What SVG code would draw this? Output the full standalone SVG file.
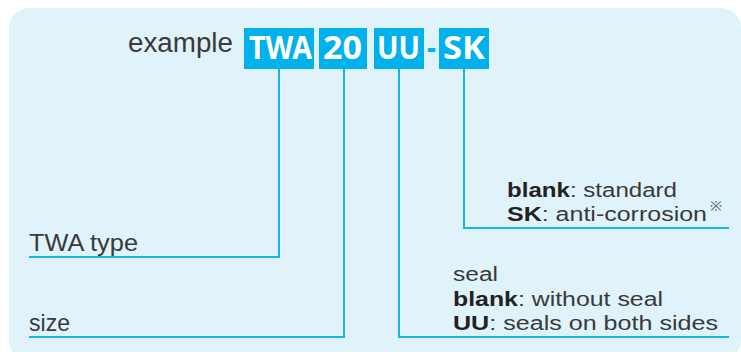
<svg xmlns="http://www.w3.org/2000/svg" width="741" height="352" viewBox="0 0 741 352">
<style>
.bg{fill:#e0f2fa}
.box{fill:#00b1ec}
.code{font-family:"Noto Sans","Liberation Sans",sans-serif;font-weight:700;font-size:32px;fill:#ffffff}
.lbl{font-family:"Liberation Sans","Noto Sans",sans-serif;font-size:24px;fill:#3a3a3a}
.txt{font-family:"Liberation Sans","Noto Sans",sans-serif;font-size:20px;fill:#3a3a3a}
.b{font-weight:700;fill:#222222}
.conn{fill:none;stroke:#1ab4ec;stroke-width:2}
</style>
<rect class="bg" x="9" y="8" width="732" height="352" rx="20" ry="20"/>
<g id="title">
<text class="lbl" x="128" y="52" textLength="105" lengthAdjust="spacingAndGlyphs" style="font-size:27px">example</text>
</g>
<g id="code-twa">
<rect class="box" x="244" y="28" width="70" height="41"/>
<text class="code" x="249" y="59" textLength="63" lengthAdjust="spacingAndGlyphs">TWA</text>
</g>
<g id="code-20">
<rect class="box" x="319" y="28" width="48" height="41"/>
<text class="code" x="323" y="59" textLength="39" lengthAdjust="spacingAndGlyphs">20</text>
</g>
<g id="code-uu">
<rect class="box" x="374" y="28" width="50" height="41"/>
<text class="code" x="377" y="59" textLength="43" lengthAdjust="spacingAndGlyphs">UU</text>
</g>
<g id="dash">
<text class="code" x="427" y="59" textLength="9" lengthAdjust="spacingAndGlyphs" style="fill:#00b1ec">-</text>
</g>
<g id="code-sk">
<rect class="box" x="439" y="28" width="50" height="41"/>
<text class="code" x="443" y="59" textLength="42" lengthAdjust="spacingAndGlyphs">SK</text>
</g>
<g id="connectors">
<polyline class="conn" points="279,69 279,257 29,257"/>
<polyline class="conn" points="344,69 344,337 29,337"/>
<polyline class="conn" points="399,69 399,337 729,337"/>
<polyline class="conn" points="464,69 464,228 729,228"/>
</g>
<g id="label-type">
<text class="lbl" x="29" y="250.5" textLength="109" lengthAdjust="spacingAndGlyphs">TWA type</text>
</g>
<g id="label-size">
<text class="lbl" x="29" y="331" textLength="41" lengthAdjust="spacingAndGlyphs">size</text>
</g>
<g id="label-sk">
<text class="txt" x="507" y="197" textLength="170" lengthAdjust="spacingAndGlyphs"><tspan class="b">blank</tspan>: standard</text>
<text class="txt" x="507" y="221" textLength="200" lengthAdjust="spacingAndGlyphs"><tspan class="b">SK</tspan>: anti-corrosion</text>
<text class="txt" x="710" y="211" style="font-size:14px;fill:#666666" textLength="12" lengthAdjust="spacingAndGlyphs">※</text>
</g>
<g id="label-seal">
<text class="txt" x="453" y="281" textLength="45" lengthAdjust="spacingAndGlyphs">seal</text>
<text class="txt" x="453" y="305.5" textLength="210" lengthAdjust="spacingAndGlyphs"><tspan class="b">blank</tspan>: without seal</text>
<text class="txt" x="453" y="329.5" textLength="265" lengthAdjust="spacingAndGlyphs"><tspan class="b">UU</tspan>: seals on both sides</text>
</g>
</svg>
